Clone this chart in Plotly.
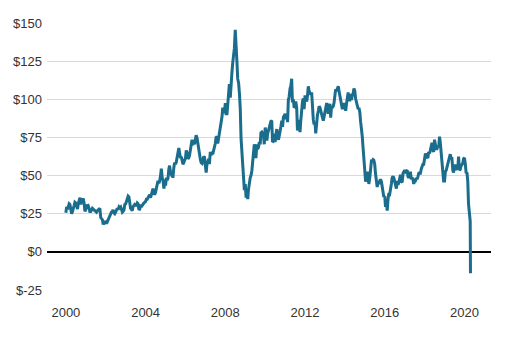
import pandas as pd
import plotly.graph_objects as go

# Semi-monthly WTI crude price readings (1st and 15th of each month), USD/barrel
y2000 = [25.6, 29.5, 27.8, 29.8, 31.5, 31.0, 26.5, 25.0, 26.5, 29.5, 30.5, 32.5, 32.0, 30.5, 28.0, 31.5, 33.5, 35.5, 31.0, 35.0, 33.0, 35.0, 31.5, 26.5]
y2001 = [28.0, 31.0, 29.5, 30.0, 28.5, 26.5, 26.5, 28.0, 28.5, 28.0, 27.5, 26.5, 26.3, 26.0, 27.0, 27.5, 27.5, 28.5, 22.5, 22.0, 21.0, 18.0, 19.5, 19.0]
y2002 = [19.5, 18.5, 20.0, 21.0, 22.5, 24.5, 25.5, 26.0, 26.5, 27.5, 25.5, 25.0, 26.0, 27.0, 28.5, 27.5, 29.5, 29.0, 29.5, 28.0, 26.0, 26.5, 27.5, 31.0]
y2003 = [31.5, 33.0, 34.5, 36.5, 36.0, 30.5, 28.5, 28.0, 27.0, 29.5, 30.0, 31.0, 30.5, 30.5, 32.0, 31.5, 27.5, 28.0, 31.0, 29.5, 30.5, 31.5, 32.0, 32.5]
y2004 = [33.0, 34.5, 34.5, 35.5, 36.5, 37.5, 35.5, 38.0, 40.0, 41.5, 38.5, 37.5, 39.0, 41.0, 43.5, 46.5, 45.0, 46.5, 50.0, 54.5, 48.5, 47.0, 41.5, 45.0]
y2005 = [43.5, 48.5, 47.0, 48.5, 54.0, 56.5, 52.5, 51.0, 51.5, 48.5, 55.0, 58.5, 57.5, 58.5, 62.0, 66.5, 68.0, 65.0, 61.5, 62.5, 59.5, 57.5, 58.5, 59.5]
y2006 = [61.5, 66.5, 64.5, 61.0, 61.5, 63.0, 67.5, 70.5, 73.5, 70.0, 72.0, 70.5, 73.0, 76.5, 74.5, 70.5, 67.5, 62.5, 60.5, 58.5, 58.0, 59.5, 62.5, 62.0]
y2007 = [55.5, 52.0, 58.5, 59.0, 61.0, 57.5, 65.5, 63.5, 64.5, 64.0, 66.5, 68.5, 71.0, 75.0, 75.5, 71.0, 74.5, 78.5, 81.5, 83.5, 88.5, 94.5, 91.5, 91.0]
y2008 = [97.5, 90.5, 90.5, 96.5, 102.0, 110.0, 101.0, 112.0, 117.5, 123.5, 128.0, 133.5, 145.5, 131.0, 124.5, 113.5, 110.5, 104.0, 94.0, 74.5, 65.5, 56.5, 46.5, 40.5]
y2009 = [44.5, 35.5, 40.5, 34.5, 41.0, 46.0, 48.5, 50.0, 53.0, 58.5, 68.0, 70.5, 68.5, 61.5, 70.5, 67.5, 68.5, 72.0, 70.5, 78.0, 78.5, 77.5, 76.5, 70.5]
y2010 = [81.5, 78.0, 73.0, 77.5, 80.0, 81.5, 83.5, 85.5, 86.0, 72.0, 72.5, 77.5, 72.0, 77.0, 80.5, 75.5, 73.5, 76.0, 81.5, 82.0, 86.0, 82.0, 88.5, 89.0]
y2011 = [90.5, 87.0, 90.5, 85.0, 99.5, 101.5, 107.0, 108.5, 113.5, 98.0, 100.0, 94.5, 95.0, 98.5, 94.5, 79.5, 86.5, 83.0, 78.5, 86.0, 93.5, 98.5, 100.5, 93.5]
y2012 = [102.5, 99.5, 98.5, 102.5, 108.5, 105.5, 103.0, 103.0, 104.5, 95.0, 86.5, 83.5, 85.0, 77.7, 87.5, 89.5, 92.5, 95.5, 94.5, 92.0, 88.5, 88.0, 86.0, 88.5]
y2013 = [93.0, 95.5, 97.5, 95.5, 90.5, 93.5, 97.0, 88.0, 95.5, 94.5, 95.5, 97.5, 102.5, 106.5, 105.5, 107.5, 108.5, 105.5, 102.5, 100.5, 95.5, 93.5, 95.5, 97.5]
y2014 = [95.5, 92.5, 97.5, 100.5, 104.5, 99.5, 99.5, 103.5, 99.5, 102.5, 104.0, 107.0, 105.5, 100.5, 97.5, 96.0, 93.5, 94.5, 91.5, 85.5, 80.5, 75.5, 67.5, 58.0]
y2015 = [50.0, 46.0, 48.5, 52.5, 50.0, 44.5, 48.5, 56.5, 59.5, 59.5, 60.5, 60.0, 57.5, 51.5, 46.5, 42.5, 45.5, 44.5, 46.5, 47.5, 46.0, 41.5, 40.0, 36.0]
y2016 = [36.5, 29.5, 31.5, 27.0, 34.5, 38.5, 38.0, 40.5, 44.5, 48.5, 49.5, 48.5, 46.0, 44.5, 41.5, 46.5, 44.0, 45.5, 48.5, 50.5, 46.0, 45.5, 51.5, 52.5]
y2017 = [53.5, 52.5, 53.5, 53.5, 49.5, 48.5, 50.5, 52.5, 47.5, 48.5, 47.5, 44.5, 46.5, 46.5, 48.5, 47.5, 49.5, 51.5, 51.5, 51.5, 54.5, 56.5, 57.5, 57.5]
y2018 = [60.5, 64.5, 62.5, 61.5, 61.5, 65.5, 64.5, 66.5, 68.5, 71.5, 66.5, 65.5, 73.5, 70.5, 67.5, 67.5, 69.5, 68.5, 75.5, 71.5, 64.5, 56.5, 51.5, 46.5]
y2019 = [46.5, 52.5, 53.5, 55.5, 56.5, 59.5, 62.5, 64.0, 61.5, 62.0, 53.5, 52.0, 56.5, 56.5, 53.5, 55.5, 55.0, 62.5, 53.5, 54.0, 56.5, 57.5, 58.0, 61.0]
y2020 = [61.5, 58.0, 51.5, 52.0, 46.5, 31.5, 20.5, 20.0]
tail_date = ["2020-04-20"]
tail_value = [-14.0]

y_tickvals = [-25, 0, 25, 50, 75, 100, 125, 150]
y_ticktext = ["$-25", "$0", "$25", "$50", "$75", "$100", "$125", "$150"]
x_tickyears = [2000, 2004, 2008, 2012, 2016, 2020]

values = (y2000 + y2001 + y2002 + y2003 + y2004 + y2005 + y2006 + y2007 + y2008 + y2009
          + y2010 + y2011 + y2012 + y2013 + y2014 + y2015 + y2016 + y2017 + y2018 + y2019
          + y2020 + tail_value)
dates = list(pd.date_range("2000-01-01", periods=len(values) - len(tail_value), freq="SMS"))
dates = dates + list(pd.to_datetime(tail_date))

fig = go.Figure()
fig.add_trace(go.Scatter(
    x=dates, y=values, mode="lines",
    line=dict(color="#1a6d8c", width=3),
    hoverinfo="skip",
))

fig.update_layout(
    width=525, height=341,
    margin=dict(l=47, r=34, t=23, b=51),
    paper_bgcolor="white", plot_bgcolor="white",
    showlegend=False,
    font=dict(family="Liberation Sans, Arial, sans-serif", size=13, color="#333333"),
    xaxis=dict(
        range=["1999-01-20", "2021-05-01"],
        tickvals=[pd.Timestamp(f"{y}-01-01") for y in x_tickyears],
        ticktext=[str(y) for y in x_tickyears],
        showgrid=False, zeroline=False, showline=False,
        ticks="outside", ticklen=10, tickcolor="rgba(0,0,0,0)",
    ),
    yaxis=dict(
        range=[-25, 150],
        tickvals=y_tickvals, ticktext=y_ticktext,
        showgrid=True, gridcolor="#d9d9d9", gridwidth=1,
        zeroline=True, zerolinecolor="#000000", zerolinewidth=1.5,
        showline=False, ticks="", ticklabelstandoff=4,
    ),
)

fig.write_html("out.html")
